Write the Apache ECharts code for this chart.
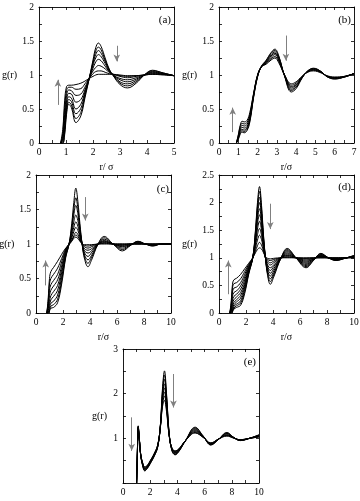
<!DOCTYPE html>
<html>
<head>
<meta charset="utf-8">
<script src="https://cdn.jsdelivr.net/npm/echarts@6/dist/echarts.min.js"></script>
<style>
html, body { margin: 0; padding: 0; background: #fff; }
#chart { width: 360px; height: 501px; }
</style>
</head>
<body>
<div id="chart"></div>
<script>
// panel (a)
const rA = [0.8, 0.88, 0.95, 1.02, 1.1, 1.2, 1.37, 1.55, 1.7, 1.86, 2.0, 2.1, 2.2, 2.3, 2.45, 2.6, 2.75, 3.0, 3.28, 3.6, 3.9, 4.2, 4.6, 5.0]
const gA = [
  [0, 0, 0.12, 0.42, 0.57, 0.52, 0.30, 0.40, 0.66, 0.95, 1.22, 1.40, 1.47, 1.42, 1.25, 1.09, 0.99, 0.86, 0.81, 0.88, 1.0, 1.07, 1.03, 0.99],
  [0, 0, 0.15, 0.46, 0.60, 0.56, 0.36, 0.45, 0.69, 0.95, 1.19, 1.35, 1.41, 1.37, 1.22, 1.08, 0.99, 0.88, 0.84, 0.9, 1.0, 1.06, 1.03, 0.99],
  [0, 0.02, 0.2, 0.5, 0.64, 0.61, 0.43, 0.51, 0.72, 0.95, 1.17, 1.30, 1.36, 1.32, 1.2, 1.07, 1.0, 0.9, 0.87, 0.92, 1.0, 1.05, 1.02, 0.99],
  [0, 0.04, 0.26, 0.56, 0.68, 0.66, 0.50, 0.57, 0.75, 0.95, 1.14, 1.25, 1.30, 1.27, 1.17, 1.06, 1.0, 0.93, 0.9, 0.94, 1.0, 1.04, 1.02, 0.99],
  [0, 0.07, 0.33, 0.62, 0.73, 0.72, 0.60, 0.64, 0.78, 0.95, 1.1, 1.19, 1.23, 1.21, 1.13, 1.05, 1.0, 0.95, 0.93, 0.96, 1.0, 1.03, 1.01, 0.99],
  [0, 0.1, 0.42, 0.7, 0.78, 0.77, 0.70, 0.72, 0.82, 0.95, 1.06, 1.11, 1.14, 1.13, 1.09, 1.04, 1.01, 0.98, 0.96, 0.98, 1.0, 1.02, 1.01, 0.99],
  [0, 0.14, 0.52, 0.77, 0.82, 0.82, 0.79, 0.80, 0.87, 0.95, 1.02, 1.05, 1.06, 1.06, 1.04, 1.02, 1.01, 0.99, 0.98, 0.99, 1.0, 1.01, 1.01, 0.99],
  [0, 0.2, 0.62, 0.83, 0.85, 0.85, 0.86, 0.88, 0.91, 0.95, 0.98, 1.0, 1.01, 1.01, 1.01, 1.01, 1.01, 1.0, 0.99, 0.99, 1.0, 1.01, 1.0, 0.99]
]

// panel (b)
const rB = [0.9, 1.0, 1.1, 1.2, 1.3, 1.45, 1.6, 1.8, 2.0, 2.2, 2.45, 2.7, 2.9, 3.1, 3.4, 3.75, 4.0, 4.3, 4.6, 4.9, 5.3, 5.6, 6.0, 6.5, 7.0]
const gB = [
  [0, 0.12, 0.26, 0.32, 0.31, 0.33, 0.45, 0.74, 1.0, 1.12, 1.16, 1.22, 1.25, 1.18, 1.0, 0.87, 0.9, 0.98, 1.04, 1.06, 1.03, 0.99, 0.97, 0.98, 1.02],
  [0, 0.11, 0.24, 0.29, 0.28, 0.3, 0.42, 0.73, 1.0, 1.12, 1.17, 1.24, 1.27, 1.2, 1.0, 0.85, 0.88, 0.975, 1.045, 1.07, 1.035, 0.985, 0.965, 0.98, 1.02],
  [0, 0.09, 0.21, 0.26, 0.25, 0.27, 0.4, 0.72, 0.99, 1.12, 1.18, 1.26, 1.3, 1.22, 1.0, 0.83, 0.86, 0.97, 1.05, 1.075, 1.04, 0.98, 0.96, 0.975, 1.02],
  [0, 0.08, 0.19, 0.23, 0.22, 0.24, 0.37, 0.71, 0.99, 1.12, 1.19, 1.28, 1.32, 1.24, 0.99, 0.81, 0.85, 0.965, 1.05, 1.08, 1.045, 0.98, 0.955, 0.975, 1.02],
  [0, 0.07, 0.17, 0.2, 0.19, 0.22, 0.35, 0.7, 0.98, 1.12, 1.2, 1.3, 1.34, 1.25, 0.99, 0.79, 0.83, 0.96, 1.055, 1.09, 1.045, 0.98, 0.95, 0.97, 1.02],
  [0, 0.06, 0.15, 0.18, 0.17, 0.2, 0.33, 0.69, 0.98, 1.13, 1.21, 1.32, 1.36, 1.27, 0.99, 0.77, 0.82, 0.955, 1.06, 1.095, 1.05, 0.975, 0.945, 0.97, 1.02],
  [0, 0.05, 0.13, 0.16, 0.15, 0.18, 0.31, 0.68, 0.97, 1.13, 1.22, 1.33, 1.38, 1.28, 0.98, 0.75, 0.8, 0.95, 1.06, 1.10, 1.05, 0.975, 0.94, 0.97, 1.02]
]

// panel (c)
const rC = [0.8, 0.9, 1.0, 1.1, 1.3, 1.6, 1.9, 2.2, 2.45, 2.65, 2.8, 2.95, 3.1, 3.25, 3.43, 3.6, 3.85, 4.1, 4.6, 5.05, 5.7, 6.4, 7.0, 7.55, 8.1, 8.65, 9.3, 10]
const gC = [
  [0, 0, 0.03, 0.07, 0.08, 0.15, 0.42, 0.8, 1.0, 1.3, 1.6, 1.81, 1.62, 1.3, 0.98, 0.78, 0.67, 0.76, 1.0, 1.11, 1.0, 0.9, 0.98, 1.04, 1.0, 0.97, 1.0, 1.0],
  [0, 0, 0.04, 0.1, 0.12, 0.2, 0.47, 0.82, 1.0, 1.25, 1.5, 1.67, 1.52, 1.25, 0.98, 0.81, 0.72, 0.8, 1.0, 1.09, 1.0, 0.92, 0.98, 1.035, 1.0, 0.975, 1.0, 1.0],
  [0, 0.01, 0.07, 0.14, 0.17, 0.26, 0.52, 0.84, 1.0, 1.21, 1.42, 1.56, 1.44, 1.21, 0.99, 0.84, 0.77, 0.83, 1.0, 1.07, 1.0, 0.94, 0.985, 1.03, 1.0, 0.98, 1.0, 1.0],
  [0, 0.03, 0.11, 0.19, 0.24, 0.33, 0.58, 0.86, 1.0, 1.16, 1.32, 1.42, 1.34, 1.17, 0.99, 0.87, 0.82, 0.87, 1.0, 1.05, 1.0, 0.96, 0.99, 1.02, 1.0, 0.985, 1.0, 1.0],
  [0, 0.06, 0.17, 0.25, 0.31, 0.4, 0.63, 0.88, 1.0, 1.12, 1.24, 1.32, 1.26, 1.13, 0.99, 0.9, 0.87, 0.9, 1.0, 1.04, 1.0, 0.97, 0.99, 1.015, 1.0, 0.99, 1.0, 1.0],
  [0, 0.09, 0.25, 0.33, 0.39, 0.48, 0.68, 0.9, 1.0, 1.09, 1.18, 1.24, 1.2, 1.1, 1.0, 0.93, 0.91, 0.93, 1.0, 1.03, 1.0, 0.98, 1.0, 1.01, 1.0, 0.99, 1.0, 1.0],
  [0, 0.12, 0.33, 0.41, 0.47, 0.56, 0.74, 0.92, 1.0, 1.06, 1.12, 1.17, 1.14, 1.07, 1.0, 0.96, 0.94, 0.96, 1.0, 1.02, 1.0, 0.99, 1.0, 1.0, 1.0, 1.0, 1.0, 1.0],
  [0, 0.16, 0.42, 0.5, 0.56, 0.65, 0.79, 0.93, 1.0, 1.05, 1.1, 1.13, 1.11, 1.05, 1.0, 0.98, 0.97, 0.98, 1.0, 1.01, 1.0, 1.0, 1.0, 1.0, 1.0, 1.0, 1.0, 1.0],
  [0, 0.2, 0.5, 0.6, 0.66, 0.75, 0.85, 0.94, 0.99, 1.04, 1.08, 1.1, 1.08, 1.04, 1.0, 0.99, 0.99, 0.99, 1.0, 1.0, 1.0, 1.0, 1.0, 1.0, 1.0, 1.0, 1.0, 1.0]
]

// panel (d)
const rD = [0.8, 0.9, 1.0, 1.1, 1.3, 1.6, 1.9, 2.2, 2.5, 2.7, 2.85, 3.0, 3.15, 3.3, 3.45, 3.6, 3.8, 4.05, 4.6, 5.05, 5.7, 6.45, 7.0, 7.55, 8.1, 8.67, 9.3, 10]
const gD = [
  [0, 0, 0.02, 0.07, 0.10, 0.14, 0.35, 0.70, 1.0, 1.5, 2.0, 2.29, 1.95, 1.4, 0.98, 0.68, 0.52, 0.65, 1.0, 1.17, 1.0, 0.82, 0.95, 1.08, 1.0, 0.95, 0.99, 1.04],
  [0, 0, 0.03, 0.09, 0.13, 0.18, 0.39, 0.72, 1.0, 1.47, 1.93, 2.2, 1.88, 1.37, 0.98, 0.71, 0.57, 0.69, 1.0, 1.15, 1.0, 0.84, 0.96, 1.07, 1.0, 0.955, 0.99, 1.04],
  [0, 0.01, 0.05, 0.12, 0.16, 0.22, 0.43, 0.74, 1.0, 1.43, 1.85, 2.1, 1.81, 1.34, 0.98, 0.74, 0.62, 0.72, 1.0, 1.13, 1.0, 0.86, 0.96, 1.06, 1.0, 0.96, 0.99, 1.035],
  [0, 0.02, 0.08, 0.15, 0.20, 0.27, 0.47, 0.76, 1.0, 1.39, 1.78, 2.0, 1.74, 1.31, 0.98, 0.77, 0.67, 0.76, 1.0, 1.11, 1.0, 0.88, 0.97, 1.05, 1.0, 0.965, 0.99, 1.03],
  [0, 0.03, 0.12, 0.19, 0.24, 0.32, 0.51, 0.78, 1.0, 1.35, 1.7, 1.89, 1.66, 1.28, 0.99, 0.81, 0.72, 0.80, 1.0, 1.09, 1.0, 0.9, 0.97, 1.04, 1.0, 0.97, 0.99, 1.03],
  [0, 0.05, 0.17, 0.24, 0.29, 0.37, 0.55, 0.80, 1.0, 1.31, 1.62, 1.78, 1.58, 1.25, 0.99, 0.84, 0.77, 0.84, 1.0, 1.07, 1.0, 0.92, 0.98, 1.03, 1.0, 0.975, 0.995, 1.02],
  [0, 0.07, 0.23, 0.30, 0.34, 0.43, 0.60, 0.82, 1.0, 1.27, 1.52, 1.66, 1.5, 1.22, 0.99, 0.87, 0.82, 0.87, 1.0, 1.05, 1.0, 0.94, 0.98, 1.03, 1.0, 0.98, 0.995, 1.02],
  [0, 0.1, 0.3, 0.37, 0.40, 0.49, 0.65, 0.84, 1.0, 1.22, 1.42, 1.53, 1.41, 1.19, 0.99, 0.91, 0.87, 0.91, 1.0, 1.04, 1.0, 0.96, 0.99, 1.02, 1.0, 0.99, 1.0, 1.01],
  [0, 0.13, 0.38, 0.45, 0.47, 0.55, 0.70, 0.86, 1.0, 1.17, 1.32, 1.41, 1.33, 1.16, 1.0, 0.94, 0.91, 0.94, 1.0, 1.02, 1.0, 0.98, 0.99, 1.01, 1.0, 0.99, 1.0, 1.01],
  [0, 0.16, 0.45, 0.53, 0.55, 0.62, 0.75, 0.88, 1.0, 1.12, 1.22, 1.28, 1.23, 1.12, 1.01, 0.97, 0.95, 0.97, 1.0, 1.01, 1.0, 0.99, 1.0, 1.0, 1.0, 1.0, 1.0, 1.0],
  [0, 0.2, 0.52, 0.6, 0.63, 0.70, 0.80, 0.90, 1.0, 1.09, 1.15, 1.18, 1.16, 1.09, 1.02, 0.99, 0.98, 0.99, 1.0, 1.0, 1.0, 1.0, 1.0, 1.0, 1.0, 1.0, 1.0, 1.0]
]

// panel (e)
const rE = [1.0, 1.05, 1.12, 1.2, 1.3, 1.45, 1.6, 1.8, 2.0, 2.3, 2.55, 2.75, 2.9, 3.05, 3.2, 3.4, 3.6, 3.83, 4.1, 4.6, 5.3, 5.9, 6.46, 7.0, 7.64, 8.1, 8.62, 9.3, 10]
const gE = [
  [0, 0.6, 1.28, 1.0, 0.62, 0.38, 0.27, 0.33, 0.43, 0.6, 0.8, 1.3, 2.1, 2.51, 2.0, 1.1, 0.72, 0.63, 0.7, 0.95, 1.25, 1.05, 0.85, 0.97, 1.13, 1.03, 0.95, 1.0, 1.08],
  [0, 0.59, 1.27, 1.0, 0.62, 0.39, 0.28, 0.34, 0.44, 0.61, 0.81, 1.3, 2.04, 2.42, 1.95, 1.09, 0.73, 0.64, 0.71, 0.95, 1.23, 1.05, 0.855, 0.97, 1.12, 1.03, 0.95, 1.0, 1.075],
  [0, 0.58, 1.26, 0.99, 0.63, 0.4, 0.29, 0.35, 0.45, 0.62, 0.81, 1.29, 1.98, 2.32, 1.9, 1.08, 0.74, 0.65, 0.72, 0.95, 1.21, 1.04, 0.86, 0.97, 1.11, 1.025, 0.955, 1.0, 1.07],
  [0, 0.58, 1.25, 0.99, 0.63, 0.41, 0.31, 0.36, 0.46, 0.63, 0.82, 1.28, 1.92, 2.22, 1.84, 1.07, 0.75, 0.67, 0.73, 0.95, 1.19, 1.04, 0.87, 0.975, 1.1, 1.02, 0.96, 1.0, 1.06],
  [0, 0.57, 1.24, 0.99, 0.64, 0.42, 0.32, 0.37, 0.47, 0.64, 0.83, 1.27, 1.86, 2.13, 1.78, 1.07, 0.76, 0.68, 0.74, 0.95, 1.17, 1.03, 0.875, 0.975, 1.08, 1.02, 0.96, 1.0, 1.05],
  [0, 0.56, 1.22, 0.98, 0.64, 0.43, 0.33, 0.38, 0.48, 0.65, 0.84, 1.26, 1.8, 2.04, 1.72, 1.06, 0.77, 0.7, 0.75, 0.95, 1.15, 1.03, 0.885, 0.98, 1.07, 1.015, 0.965, 1.0, 1.04],
  [0, 0.55, 1.21, 0.98, 0.65, 0.44, 0.35, 0.39, 0.49, 0.66, 0.85, 1.25, 1.75, 1.95, 1.66, 1.05, 0.78, 0.71, 0.76, 0.95, 1.13, 1.02, 0.89, 0.98, 1.06, 1.01, 0.97, 1.0, 1.035],
  [0, 0.55, 1.2, 0.98, 0.65, 0.45, 0.36, 0.4, 0.5, 0.66, 0.85, 1.25, 1.7, 1.85, 1.6, 1.05, 0.78, 0.72, 0.76, 0.95, 1.12, 1.02, 0.9, 0.98, 1.05, 1.01, 0.97, 1.0, 1.03]
]

const FONT = 'Liberation Serif'

const panels = [
  { grid: { left: 39, top: 7, width: 135, height: 136 }, r: rA, g: gA, xMax: 5, xStep: 1, yMax: 2, yStep: 0.5,
    xName: 'r/ σ', yGap: 22, tag: '(a)', tagPos: [171, 20],
    arrows: [[0.7, 0.56, 0.93], [2.88, 1.43, 1.2]] },
  { grid: { left: 219, top: 7, width: 135, height: 136 }, r: rB, g: gB, xMax: 7, xStep: 1, yMax: 2, yStep: 0.5,
    xName: 'r/σ', yGap: 22, tag: '(b)', tagPos: [351, 20],
    arrows: [[0.71, 0.16, 0.52], [3.47, 1.58, 1.21]] },
  { grid: { left: 36, top: 175, width: 135, height: 138 }, r: rC, g: gC, xMax: 10, xStep: 2, yMax: 2, yStep: 0.5,
    xName: 'r/σ', yGap: 18, tag: '(c)', tagPos: [169, 189],
    arrows: [[0.72, 0.4, 0.76], [3.65, 1.68, 1.34]] },
  { grid: { left: 219, top: 175, width: 135, height: 138 }, r: rD, g: gD, xMax: 10, xStep: 2, yMax: 2.5, yStep: 0.5,
    xName: 'r/σ', yGap: 22, tag: '(d)', tagPos: [351, 187],
    arrows: [[0.69, 0.34, 0.95], [3.8, 1.98, 1.52]] },
  { grid: { left: 123, top: 349, width: 136, height: 134 }, r: rE, g: gE, xMax: 10, xStep: 2, yMax: 3, yStep: 1,
    xName: 'r/σ', yGap: 16, tag: '(e)', tagPos: [256, 362], hideZero: true,
    arrows: [[0.64, 1.47, 0.72], [3.71, 2.44, 1.69]] }
]

const tickStyle = { color: '#000', width: 0.8 }
const labelStyle = { color: '#000', fontFamily: FONT, fontSize: 9.5 }
const nameStyle = { color: '#000', fontFamily: FONT, fontSize: 10 }

const grids = []
const xAxes = []
const yAxes = []
const series = []
const graphics = []

panels.forEach((p, i) => {
  grids.push(Object.assign({ outerBoundsMode: 'none' }, p.grid))
  const common = {
    type: 'value', gridIndex: i, min: 0,
    axisLine: { show: true, onZero: false, lineStyle: { color: '#000', width: 0.9 } },
    axisTick: { show: true, inside: true, length: 3, lineStyle: tickStyle },
    minorTick: { show: true, splitNumber: 2, length: 3, lineStyle: tickStyle },
    splitLine: { show: false },
    minorSplitLine: { show: false }
  }
  // bottom + mirrored top
  xAxes.push(Object.assign({}, common, {
    position: 'bottom', max: p.xMax, interval: p.xStep,
    axisLabel: Object.assign({ margin: 4 }, labelStyle),
    name: p.xName, nameLocation: 'middle', nameGap: 19, nameTextStyle: nameStyle
  }))
  xAxes.push(Object.assign({}, common, {
    position: 'top', max: p.xMax, interval: p.xStep, axisLabel: { show: false }
  }))
  // left + mirrored right
  yAxes.push(Object.assign({}, common, {
    position: 'left', max: p.yMax, interval: p.yStep,
    axisLabel: Object.assign({
      margin: 5,
      formatter: v => (p.hideZero && v === 0) ? '' : String(v)
    }, labelStyle),
    name: 'g(r)', nameLocation: 'middle', nameRotate: 0, nameGap: p.yGap, nameTextStyle: nameStyle
  }))
  yAxes.push(Object.assign({}, common, {
    position: 'right', max: p.yMax, interval: p.yStep, axisLabel: { show: false }
  }))

  p.g.forEach((curve, k) => {
    const s = {
      type: 'line',
      xAxisIndex: i * 2,
      yAxisIndex: i * 2,
      data: p.r.map((r, j) => [r, curve[j]]),
      showSymbol: false,
      smooth: 0.4,
      silent: true,
      lineStyle: { color: '#000', width: 1 }
    }
    if (k === 0) {
      s.markLine = {
        silent: true,
        symbol: ['none', 'arrow'],
        symbolSize: [5, 7],
        label: { show: false },
        lineStyle: { color: '#808080', width: 1, type: 'solid' },
        data: p.arrows.map(a => [{ coord: [a[0], a[1]] }, { coord: [a[0], a[2]] }])
      }
    }
    series.push(s)
  })

  graphics.push({
    type: 'text', x: p.tagPos[0], y: p.tagPos[1],
    style: { text: p.tag, fill: '#000', font: '11px "Liberation Serif"', textAlign: 'right', textVerticalAlign: 'middle' }
  })
})

const chart = echarts.init(document.getElementById('chart'))
chart.setOption({
  animation: false,
  backgroundColor: '#fff',
  grid: grids,
  xAxis: xAxes,
  yAxis: yAxes,
  series: series,
  graphic: graphics
})
</script>
</body>
</html>
